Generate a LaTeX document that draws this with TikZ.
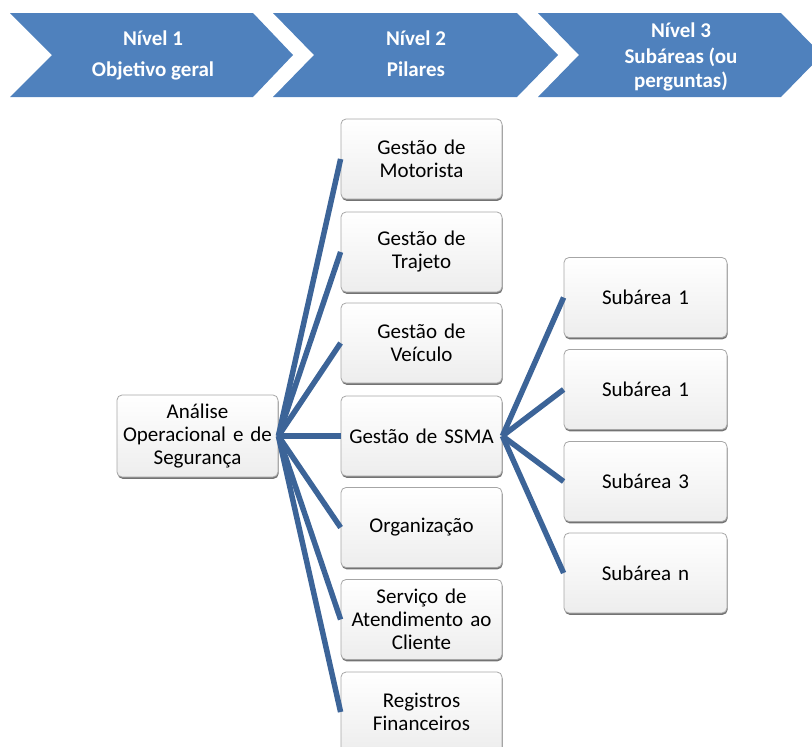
\documentclass[tikz,border=0pt]{standalone}
\usepackage{fontspec}
\setmainfont{Carlito}
\usetikzlibrary{shadows}
\definecolor{chev}{RGB}{79,129,189}
\definecolor{linkc}{RGB}{60,100,152}
\begin{document}
\begin{tikzpicture}[x=1pt,y=-1pt,
  chevron/.style={fill=chev, draw=none},
  chevtext/.style={text=white, font=\fontsize{21}{25}\selectfont\bfseries, anchor=base, inner sep=0pt},
  box/.style={draw=black!35, line width=0.8pt, rounded corners=5pt, top color=white, bottom color=black!7,
    minimum width=161pt, minimum height=80pt, align=center, text width=155pt, inner sep=0pt,
    font=\fontsize{21}{23}\selectfont,
    drop shadow={shadow xshift=0.6pt, shadow yshift=-1.8pt, fill=black!55, opacity=1}},
  linkline/.style={draw=linkc, line width=5.5pt}
]
\useasboundingbox (0,0) rectangle (812,747);
\clip (0,0) rectangle (812,747);

% chevrons
\fill[chevron] (10,13) -- (253,13) -- (293,55) -- (253,97) -- (10,97) -- (52,55) -- cycle;
\fill[chevron] (273,13) -- (517,13) -- (558,55) -- (517,97) -- (273,97) -- (314,55) -- cycle;
\fill[chevron] (538,13) -- (781,13) -- (822,55) -- (781,97) -- (538,97) -- (579,55) -- cycle;

\node[chevtext] (c1a) at (153,45) {Nível 1};
\node[chevtext] (c1b) at (153,76) {Objetivo geral};
\node[chevtext] (c2a) at (416,45) {Nível 2};
\node[chevtext] (c2b) at (416,76) {Pilares};
\node[chevtext] (c3a) at (681,37) {Nível 3};
\node[chevtext] (c3b) at (681,63) {Subáreas (ou};
\node[chevtext] (c3c) at (681,87) {perguntas)};

% root
\node[box, minimum height=82pt] (root) at (197.5,436) {Análise\\Operacional e de\\Segurança};

% pillars
\node[box] (p1) at (421.5,159) {Gestão de\\Motorista};
\node[box] (p2) at (421.5,252) {Gestão de\\Trajeto};
\node[box] (p3) at (421.5,343) {Gestão de\\Veículo};
\node[box] (p4) at (421.5,436) {Gestão de SSMA};
\node[box] (p5) at (421.5,527.5) {Organização};
\node[box] (p6) at (421.5,619.5) {Serviço de\\Atendimento ao\\Cliente};
\node[box] (p7) at (421.5,712) {Registros\\Financeiros};

% subareas
\node[box, minimum width=163pt] (s1) at (645.5,297.5) {Subárea 1};
\node[box, minimum width=163pt] (s2) at (645.5,389.5) {Subárea 1};
\node[box, minimum width=163pt] (s3) at (645.5,481.5) {Subárea 3};
\node[box, minimum width=163pt] (s4) at (645.5,573) {Subárea n};

% connectors
\foreach \p in {p1,p2,p3,p4,p5,p6,p7}{
  \draw[linkline] (root.east) -- (\p.west);
}
\foreach \s in {s1,s2,s3,s4}{
  \draw[linkline] (p4.east) -- (\s.west);
}
\end{tikzpicture}
\end{document}
